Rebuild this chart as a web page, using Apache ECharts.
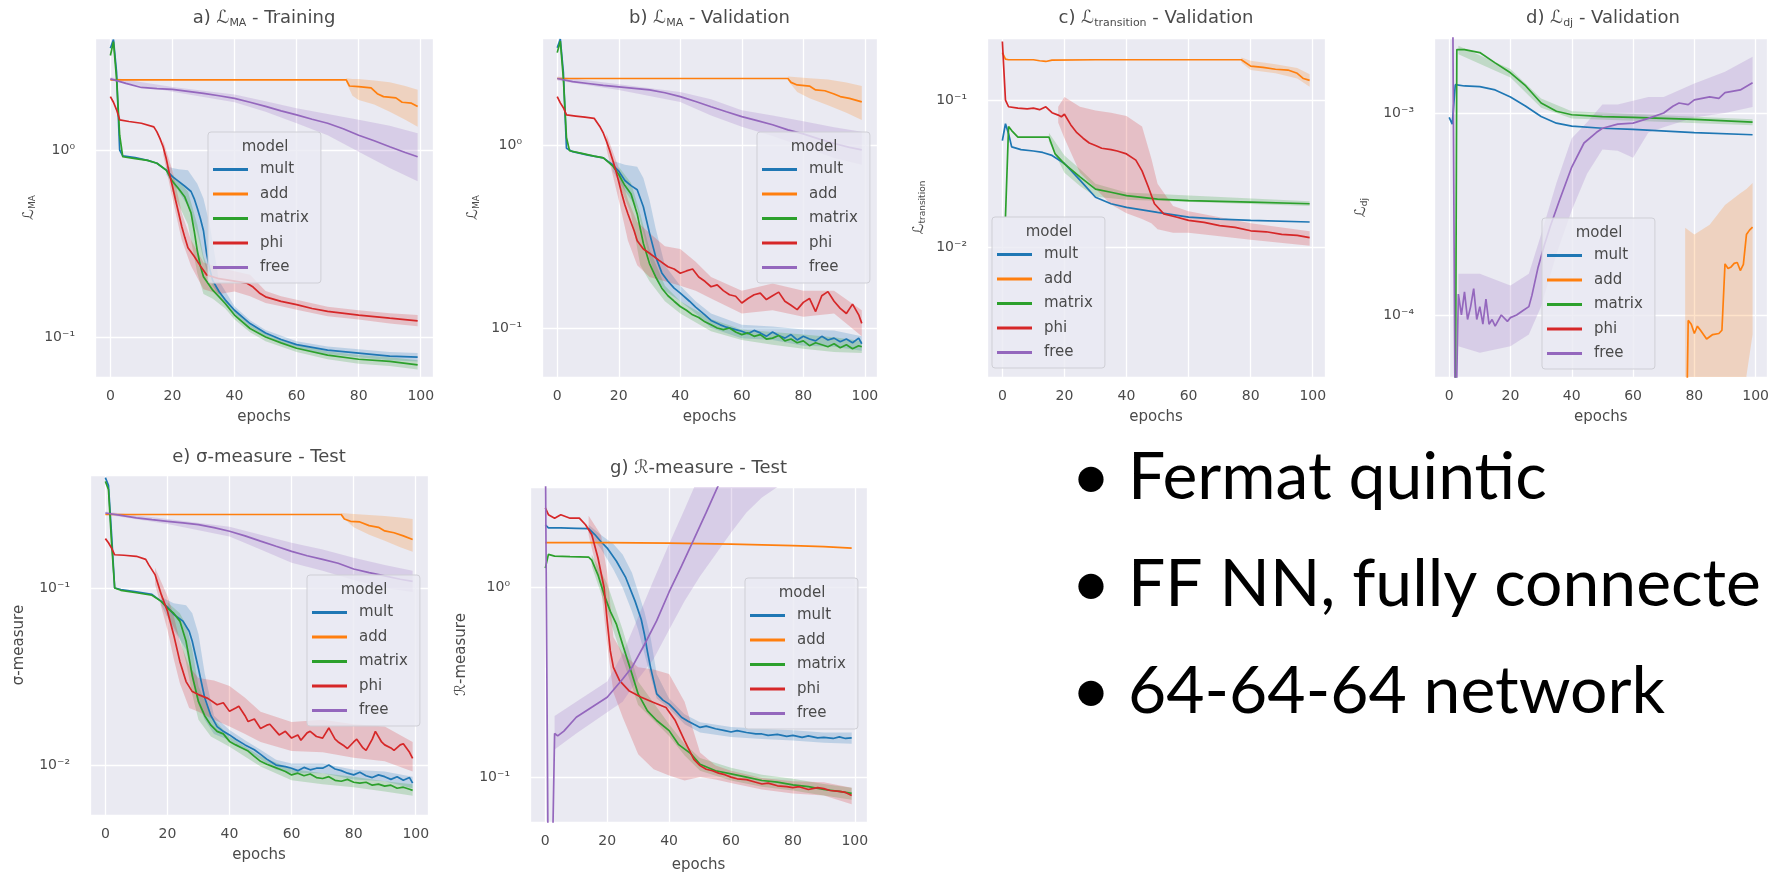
<!DOCTYPE html>
<html><head><meta charset="utf-8">
<script src="https://cdn.jsdelivr.net/npm/echarts@6/dist/echarts.min.js"></script>
<style>html,body{margin:0;padding:0;background:#fff}#c{width:1772px;height:874px}</style>
</head><body><div id="c"></div><script>
// ---------- DATA (epoch, value) ----------
const seriesNames = ['mult','add','matrix','phi','free'];
const xTicks = [0,20,40,60,80,100];
const bulletLines = ['Fermat quintic','FF NN, fully connecte','64-64-64 network'];

// a) L_MA - Training
const a_mult = [[0,3.5],[1,3.9],[2,2.6],[3,1.0],[4,0.93],[8,0.91],[12,0.88],[15,0.85],[18,0.78],[20,0.72],[22,0.68],[24,0.64],[26,0.6],[27,0.55],[28,0.49],[29,0.43],[30,0.37],[31,0.28],[32,0.23],[33,0.2],[35,0.175],[37,0.158],[40,0.139],[45,0.118],[50,0.105],[55,0.097],[60,0.091],[70,0.085],[80,0.082],[90,0.079],[99,0.078]];
const a_add = [[0,2.37],[10,2.37],[20,2.37],[40,2.37],[60,2.37],[76,2.37],[77,2.2],[80,2.18],[84,2.15],[86,2.0],[88,1.93],[92,1.9],[94,1.8],[97,1.78],[99,1.71]];
const a_matrix = [[0,3.2],[1,3.8],[2,2.4],[3,1.2],[4,0.92],[8,0.9],[12,0.88],[15,0.85],[18,0.78],[20,0.68],[22,0.62],[24,0.56],[26,0.46],[27,0.37],[28,0.29],[29,0.24],[30,0.21],[33,0.178],[37,0.151],[40,0.131],[45,0.111],[50,0.1],[55,0.093],[60,0.087],[70,0.08],[80,0.076],[90,0.074],[99,0.071]];
const a_phi = [[0,1.93],[1,1.8],[2,1.64],[3,1.45],[6,1.42],[10,1.39],[14,1.33],[15,1.25],[16,1.15],[17,1.04],[18,0.9],[19,0.75],[20,0.64],[21,0.54],[22,0.46],[23,0.39],[24,0.34],[25,0.3],[27,0.27],[29,0.24],[31,0.215],[35,0.205],[40,0.199],[44,0.194],[46,0.185],[48,0.172],[50,0.164],[55,0.155],[60,0.149],[65,0.142],[70,0.137],[80,0.131],[90,0.126],[99,0.122]];
const a_free = [[0,2.4],[2,2.35],[5,2.27],[10,2.16],[15,2.13],[20,2.11],[25,2.06],[30,2.01],[35,1.95],[40,1.89],[45,1.8],[50,1.71],[55,1.62],[60,1.54],[65,1.46],[70,1.39],[75,1.3],[80,1.2],[85,1.12],[90,1.04],[95,0.97],[99,0.92]];
const a_mult_band = [[18,0.74,0.82],[20,0.66,0.8],[22,0.6,0.79],[25,0.5,0.78],[28,0.36,0.66],[30,0.26,0.55],[32,0.2,0.4],[35,0.165,0.2],[40,0.133,0.146],[45,0.113,0.123],[50,0.101,0.109],[60,0.087,0.095],[70,0.081,0.089],[80,0.078,0.086],[90,0.075,0.083],[99,0.074,0.082]];
const a_add_band = [[76,2.3,2.42],[78,1.95,2.4],[80,1.85,2.4],[85,1.75,2.35],[90,1.6,2.3],[95,1.45,2.2],[99,1.33,2.1]];
const a_matrix_band = [[20,0.6,0.74],[25,0.4,0.6],[28,0.22,0.4],[30,0.17,0.27],[33,0.16,0.2],[37,0.142,0.16],[40,0.124,0.138],[45,0.106,0.116],[50,0.095,0.105],[60,0.083,0.091],[70,0.076,0.084],[80,0.072,0.08],[90,0.07,0.078],[99,0.067,0.075]];
const a_phi_band = [[17,0.95,1.12],[20,0.55,0.78],[23,0.33,0.46],[26,0.24,0.33],[30,0.18,0.25],[35,0.17,0.235],[40,0.175,0.225],[45,0.165,0.215],[50,0.152,0.176],[55,0.146,0.165],[60,0.14,0.158],[70,0.129,0.145],[80,0.124,0.139],[90,0.118,0.134],[99,0.114,0.131]];
const a_free_band = [[0,2.35,2.45],[20,2.05,2.17],[40,1.8,1.98],[50,1.6,1.82],[60,1.39,1.67],[70,1.2,1.56],[80,0.98,1.45],[90,0.8,1.35],[99,0.68,1.23]];

// b) L_MA - Validation
const b_mult = [[0,3.4],[1,3.8],[2,2.5],[3,0.96],[5,0.92],[10,0.88],[15,0.85],[18,0.78],[20,0.72],[22,0.64],[24,0.6],[26,0.57],[28,0.46],[30,0.33],[32,0.245],[34,0.2],[36,0.18],[38,0.165],[40,0.155],[43,0.14],[45,0.13],[48,0.118],[50,0.11],[53,0.104],[55,0.101],[58,0.098],[60,0.096],[62,0.093],[64,0.097],[66,0.094],[68,0.09],[70,0.095],[72,0.091],[74,0.088],[76,0.092],[78,0.086],[80,0.09],[82,0.087],[84,0.085],[86,0.09],[88,0.086],[90,0.088],[92,0.084],[94,0.087],[96,0.083],[98,0.088],[99,0.082]];
const b_add = [[0,2.31],[20,2.31],[40,2.31],[60,2.31],[75,2.31],[76,2.2],[78,2.13],[82,2.1],[84,2.0],[87,1.98],[90,1.9],[92,1.84],[95,1.8],[97,1.76],[99,1.72]];
const b_matrix = [[0,3.2],[1,3.7],[2,2.3],[3,1.1],[4,0.93],[8,0.9],[12,0.87],[15,0.85],[18,0.77],[20,0.69],[22,0.6],[24,0.54],[26,0.42],[28,0.29],[30,0.225],[32,0.19],[34,0.165],[36,0.15],[38,0.14],[40,0.131],[42,0.125],[44,0.118],[46,0.114],[48,0.108],[50,0.104],[52,0.1],[54,0.098],[56,0.1],[58,0.095],[60,0.092],[62,0.094],[64,0.09],[66,0.092],[68,0.087],[70,0.088],[72,0.091],[74,0.085],[76,0.087],[78,0.083],[80,0.085],[82,0.08],[84,0.083],[86,0.081],[88,0.079],[90,0.082],[92,0.078],[94,0.081],[96,0.077],[98,0.08],[99,0.079]];
const b_phi = [[0,1.84],[1,1.7],[2,1.6],[3,1.46],[6,1.44],[9,1.42],[12,1.4],[14,1.25],[15,1.16],[16,1.05],[17,0.94],[18,0.83],[19,0.73],[20,0.63],[21,0.54],[22,0.47],[23,0.42],[25,0.34],[26,0.3],[28,0.27],[30,0.256],[33,0.235],[36,0.216],[38,0.21],[40,0.199],[42,0.205],[44,0.21],[46,0.19],[48,0.18],[50,0.168],[52,0.172],[54,0.16],[56,0.152],[58,0.149],[60,0.137],[62,0.145],[64,0.152],[66,0.155],[68,0.143],[70,0.15],[72,0.157],[74,0.14],[76,0.133],[78,0.126],[80,0.138],[82,0.145],[84,0.123],[86,0.15],[88,0.158],[90,0.14],[92,0.128],[94,0.12],[96,0.135],[98,0.118],[99,0.106]];
const b_free = [[0,2.31],[5,2.22],[10,2.17],[15,2.12],[20,2.08],[25,2.04],[30,2.0],[35,1.93],[40,1.84],[45,1.73],[50,1.62],[55,1.52],[60,1.43],[65,1.36],[70,1.29],[75,1.21],[80,1.15],[85,1.08],[90,1.02],[95,0.97],[99,0.94]];
const b_mult_band = [[18,0.72,0.82],[22,0.56,0.78],[26,0.45,0.76],[28,0.33,0.66],[30,0.24,0.5],[32,0.19,0.35],[35,0.16,0.22],[40,0.14,0.17],[45,0.12,0.14],[50,0.1,0.12],[60,0.088,0.104],[70,0.086,0.102],[80,0.08,0.098],[90,0.079,0.097],[99,0.075,0.09]];
const b_add_band = [[75,2.25,2.37],[78,1.95,2.35],[82,1.8,2.32],[88,1.65,2.28],[94,1.5,2.2],[99,1.37,2.1]];
const b_matrix_band = [[20,0.62,0.76],[24,0.42,0.62],[27,0.22,0.42],[30,0.18,0.27],[35,0.14,0.17],[40,0.12,0.14],[50,0.096,0.112],[60,0.086,0.098],[70,0.081,0.095],[80,0.077,0.092],[90,0.074,0.089],[99,0.073,0.085]];
const b_phi_band = [[16,0.95,1.15],[20,0.5,0.75],[23,0.3,0.5],[26,0.22,0.38],[30,0.19,0.33],[35,0.18,0.28],[40,0.17,0.27],[45,0.16,0.23],[50,0.145,0.19],[60,0.12,0.16],[70,0.125,0.175],[80,0.115,0.16],[90,0.12,0.16],[99,0.09,0.125]];
const b_free_band = [[0,2.25,2.37],[20,2.0,2.15],[40,1.72,1.95],[50,1.45,1.78],[60,1.26,1.55],[70,1.12,1.45],[80,0.98,1.35],[90,0.85,1.25],[99,0.78,1.18]];

// c) L_transition - Validation
const c_mult = [[0,0.053],[1,0.069],[2,0.059],[3,0.048],[6,0.046],[10,0.045],[13,0.044],[16,0.042],[20,0.037],[25,0.0285],[30,0.0218],[35,0.0197],[40,0.0186],[50,0.0172],[60,0.016],[70,0.0155],[80,0.0152],[99,0.0148]];
const c_add = [[0,0.21],[1,0.19],[2,0.188],[10,0.188],[12,0.185],[14,0.183],[16,0.187],[30,0.188],[50,0.188],[77,0.188],[80,0.17],[84,0.167],[88,0.162],[92,0.16],[95,0.152],[97,0.14],[99,0.136]];
const c_matrix = [[1,0.016],[2,0.066],[3,0.062],[5,0.056],[8,0.056],[12,0.056],[15,0.056],[17,0.043],[20,0.0368],[25,0.03],[30,0.0248],[35,0.0236],[40,0.0224],[50,0.0212],[60,0.0207],[80,0.0202],[99,0.0197]];
const c_phi = [[0,0.25],[1,0.1],[2,0.09],[5,0.088],[8,0.087],[10,0.088],[12,0.086],[14,0.09],[16,0.082],[18,0.079],[19,0.077],[20,0.08],[22,0.068],[24,0.06],[26,0.055],[28,0.051],[30,0.049],[32,0.047],[35,0.046],[37,0.045],[40,0.043],[43,0.039],[45,0.033],[47,0.0257],[49,0.0197],[52,0.0168],[56,0.016],[60,0.0152],[65,0.0147],[70,0.014],[75,0.0136],[80,0.0129],[85,0.0127],[90,0.0122],[95,0.012],[99,0.0116]];
const c_add_band = [[77,0.18,0.195],[80,0.16,0.185],[88,0.152,0.175],[95,0.14,0.165],[99,0.123,0.15]];
const c_matrix_band = [[15,0.052,0.06],[20,0.032,0.042],[25,0.026,0.034],[30,0.022,0.027],[40,0.021,0.0235],[99,0.019,0.0205]];
const c_phi_band = [[18,0.07,0.09],[20,0.055,0.105],[25,0.032,0.09],[30,0.025,0.085],[35,0.0195,0.082],[40,0.017,0.078],[45,0.0155,0.066],[48,0.0145,0.04],[50,0.0132,0.027],[55,0.0125,0.019],[60,0.0125,0.0175],[80,0.0112,0.0145],[99,0.0102,0.0128]];

// d) L_dj - Validation
const d_mult = [[0,0.00095],[1,0.00088],[2,0.00138],[5,0.00136],[10,0.00135],[15,0.0013],[20,0.0012],[25,0.00108],[30,0.00096],[35,0.00089],[40,0.00086],[50,0.00084],[60,0.00083],[80,0.0008],[99,0.00078]];
const d_add = [[77,0.00001],[78,0.000094],[79,0.00009],[80,0.000081],[81,0.000088],[82,0.000084],[84,0.000076],[86,0.00008],[88,0.000081],[89,0.000084],[90,0.000179],[91,0.00017],[92,0.000173],[93,0.00018],[94,0.000182],[95,0.000166],[96,0.000178],[97,0.00025],[98,0.000263],[99,0.000272]];
const d_matrix = [[2,0.00002],[2.5,0.00206],[5,0.00206],[10,0.00199],[15,0.00177],[20,0.00158],[25,0.00136],[30,0.00112],[35,0.00102],[40,0.00098],[50,0.00096],[60,0.00095],[80,0.00093],[99,0.0009]];
const d_free = [[1,0.01],[2,0.00002],[3,0.000127],[4,0.0001],[5,0.00013],[6,0.000095],[7,0.00011],[8,0.000135],[9,0.000095],[10,0.00011],[11,0.00009],[12,0.00012],[13,0.00009],[14,0.000095],[15,0.000088],[17,0.0001],[19,0.000093],[20,0.000097],[22,0.0001],[24,0.000105],[26,0.00011],[27,0.000125],[29,0.000172],[31,0.00022],[33,0.000275],[36,0.00037],[40,0.00054],[44,0.00071],[48,0.0008],[50,0.00084],[55,0.00088],[60,0.00089],[65,0.00094],[70,0.001],[73,0.00108],[75,0.00112],[78,0.0011],[80,0.00116],[85,0.0012],[88,0.00118],[90,0.00126],[95,0.0013],[99,0.00141]];
const d_add_band = [[77,0.000005,0.00027],[80,0.000005,0.00025],[85,0.000005,0.00028],[90,0.000005,0.00035],[95,0.000005,0.0004],[97,0.00005,0.00042],[99,0.00008,0.00045]];
const d_matrix_band = [[3,0.00195,0.00215],[20,0.0015,0.00165],[30,0.00106,0.00118],[40,0.00094,0.00102],[99,0.00087,0.00093]];
const d_free_band = [[3,0.00007,0.00016],[10,0.000065,0.00016],[20,0.00007,0.00014],[26,0.00008,0.00016],[30,0.00011,0.00025],[35,0.0002,0.00045],[40,0.00033,0.00075],[45,0.0005,0.0009],[50,0.00066,0.0011],[55,0.00065,0.0011],[60,0.0006,0.00115],[65,0.0008,0.0012],[70,0.00085,0.0012],[80,0.00095,0.0014],[90,0.001,0.0016],[99,0.00107,0.0019]];

// e) sigma-measure - Test
const e_mult = [[0,0.42],[1,0.38],[2,0.2],[3,0.1],[5,0.098],[10,0.095],[15,0.092],[18,0.084],[20,0.078],[22,0.071],[25,0.065],[27,0.057],[28,0.05],[30,0.035],[32,0.024],[34,0.019],[36,0.0165],[38,0.0155],[40,0.0148],[42,0.014],[45,0.013],[48,0.0122],[50,0.0115],[52,0.0108],[55,0.01],[58,0.0098],[60,0.0096],[62,0.0093],[64,0.0097],[66,0.0094],[68,0.0096],[70,0.0096],[72,0.01],[74,0.0095],[76,0.0093],[78,0.009],[80,0.0088],[82,0.0091],[84,0.0087],[86,0.0085],[88,0.0088],[90,0.0086],[92,0.0083],[94,0.0086],[96,0.0082],[98,0.0085],[99,0.0079]];
const e_add = [[0,0.26],[20,0.26],[40,0.26],[60,0.26],[76,0.26],[77,0.245],[79,0.238],[82,0.236],[85,0.225],[88,0.22],[90,0.21],[93,0.205],[96,0.197],[99,0.188]];
const e_matrix = [[0,0.4],[1,0.36],[2,0.18],[3,0.1],[5,0.097],[10,0.094],[15,0.091],[18,0.084],[20,0.077],[22,0.072],[24,0.065],[26,0.05],[28,0.032],[30,0.0228],[32,0.019],[34,0.0168],[36,0.0155],[38,0.015],[40,0.0136],[42,0.013],[44,0.0125],[46,0.012],[48,0.0112],[50,0.0105],[52,0.0101],[54,0.0098],[56,0.0095],[58,0.0092],[60,0.0088],[62,0.009],[64,0.0087],[66,0.0089],[68,0.0085],[70,0.0084],[72,0.0086],[74,0.0082],[76,0.0081],[78,0.0083],[80,0.008],[82,0.0079],[84,0.008],[86,0.0077],[88,0.0078],[90,0.0076],[92,0.0077],[94,0.0074],[96,0.0075],[98,0.0073],[99,0.0072]];
const e_phi = [[0,0.19],[1,0.18],[2,0.168],[3,0.154],[6,0.153],[10,0.151],[13,0.145],[14,0.135],[16,0.119],[18,0.092],[20,0.074],[22,0.0545],[24,0.0385],[26,0.0296],[28,0.026],[30,0.025],[33,0.0238],[36,0.0219],[38,0.0225],[40,0.0201],[42,0.021],[43,0.0215],[45,0.019],[46,0.0176],[48,0.0182],[50,0.0161],[52,0.0168],[53,0.017],[55,0.0155],[56,0.0148],[58,0.0155],[60,0.0142],[62,0.0148],[63,0.0138],[65,0.0152],[66,0.0155],[68,0.0145],[70,0.0142],[72,0.0162],[74,0.014],[75,0.0135],[77,0.0128],[78,0.0124],[80,0.0135],[81,0.014],[83,0.0125],[84,0.0121],[86,0.014],[87,0.0155],[89,0.0135],[90,0.013],[92,0.0125],[93,0.0121],[95,0.013],[96,0.0132],[98,0.0118],[99,0.0109]];
const e_free = [[0,0.265],[5,0.257],[10,0.249],[15,0.243],[20,0.238],[25,0.233],[30,0.228],[35,0.219],[40,0.209],[45,0.197],[50,0.184],[55,0.172],[60,0.161],[65,0.152],[70,0.145],[75,0.138],[80,0.128],[85,0.122],[90,0.117],[95,0.112],[99,0.109]];
const e_mult_band = [[18,0.08,0.089],[22,0.058,0.082],[26,0.045,0.08],[28,0.03,0.072],[30,0.022,0.055],[32,0.018,0.033],[35,0.015,0.019],[40,0.0138,0.0158],[45,0.0122,0.0138],[50,0.0108,0.0122],[55,0.0094,0.0107],[60,0.009,0.0102],[70,0.009,0.0102],[80,0.0083,0.0094],[90,0.0081,0.0092],[99,0.0074,0.0086]];
const e_add_band = [[76,0.255,0.265],[80,0.22,0.262],[85,0.2,0.258],[90,0.185,0.255],[95,0.17,0.25],[99,0.16,0.245]];
const e_matrix_band = [[20,0.07,0.083],[24,0.052,0.072],[26,0.038,0.062],[28,0.025,0.045],[30,0.018,0.028],[34,0.0145,0.019],[40,0.0127,0.0145],[50,0.0098,0.0112],[60,0.0082,0.0095],[70,0.0078,0.009],[80,0.0075,0.0086],[90,0.0071,0.0081],[99,0.0067,0.0078]];
const e_phi_band = [[16,0.105,0.13],[20,0.058,0.09],[22,0.04,0.07],[24,0.029,0.05],[27,0.021,0.036],[30,0.02,0.031],[35,0.018,0.03],[40,0.0165,0.028],[45,0.015,0.024],[50,0.0135,0.02],[60,0.012,0.0175],[70,0.0118,0.018],[80,0.011,0.017],[90,0.0105,0.0165],[99,0.0092,0.0135]];
const e_free_band = [[0,0.26,0.27],[20,0.23,0.245],[40,0.195,0.222],[50,0.165,0.2],[60,0.139,0.18],[70,0.125,0.165],[80,0.111,0.148],[90,0.1,0.135],[99,0.095,0.125]];

// g) R-measure - Test
const g_mult = [[0,2.15],[1,2.07],[5,2.07],[10,2.06],[14,2.05],[16,1.91],[18,1.75],[20,1.62],[23,1.38],[26,1.13],[29,0.85],[31,0.68],[32,0.57],[33,0.46],[34,0.38],[36,0.275],[38,0.255],[40,0.243],[42,0.225],[44,0.207],[46,0.198],[48,0.19],[50,0.183],[52,0.186],[55,0.18],[58,0.176],[60,0.173],[62,0.176],[65,0.172],[68,0.169],[70,0.169],[72,0.166],[75,0.168],[78,0.164],[80,0.166],[83,0.162],[85,0.165],[88,0.161],[90,0.162],[93,0.16],[95,0.163],[97,0.16],[99,0.161]];
const g_add = [[0,1.73],[20,1.73],[40,1.72],[60,1.7],[80,1.67],[90,1.65],[99,1.62]];
const g_matrix = [[0,1.27],[1,1.5],[3,1.47],[8,1.46],[14,1.45],[15,1.4],[17,1.17],[19,0.92],[21,0.75],[23,0.64],[25,0.5],[28,0.35],[30,0.275],[33,0.224],[36,0.199],[40,0.176],[43,0.149],[47,0.133],[50,0.117],[55,0.108],[60,0.104],[65,0.1],[70,0.096],[75,0.094],[80,0.091],[85,0.089],[90,0.086],[95,0.084],[99,0.082]];
const g_phi = [[0,2.64],[1,2.43],[3,2.33],[5,2.43],[8,2.33],[11,2.33],[13,2.15],[15,1.91],[17,1.44],[19,1.0],[20,0.667],[21,0.464],[22,0.38],[24,0.323],[27,0.286],[31,0.264],[35,0.248],[39,0.233],[42,0.199],[45,0.156],[48,0.124],[50,0.115],[52,0.11],[54,0.108],[56,0.105],[58,0.103],[60,0.1],[62,0.098],[65,0.097],[68,0.094],[70,0.092],[72,0.093],[75,0.09],[78,0.089],[80,0.088],[82,0.089],[85,0.086],[88,0.088],[90,0.087],[92,0.085],[95,0.084],[97,0.083],[99,0.08]];
const g_free = [[0,6.0],[1,0.02],[2,0.02],[3,0.17],[4,0.165],[6,0.175],[10,0.207],[15,0.234],[20,0.264],[25,0.33],[28,0.38],[32,0.5],[36,0.67],[40,0.95],[44,1.3],[48,1.8],[52,2.5],[56,3.5],[60,4.8]];
const g_mult_band = [[14,1.95,2.15],[18,1.6,1.9],[22,1.25,1.7],[25,1.0,1.5],[28,0.75,1.2],[30,0.6,0.95],[32,0.45,0.75],[34,0.34,0.55],[36,0.26,0.35],[40,0.23,0.26],[45,0.19,0.215],[50,0.172,0.195],[60,0.163,0.184],[70,0.159,0.18],[80,0.156,0.177],[90,0.152,0.172],[99,0.15,0.172]];
const g_matrix_band = [[15,1.3,1.5],[20,0.75,1.05],[25,0.42,0.6],[30,0.24,0.32],[40,0.165,0.19],[45,0.13,0.15],[50,0.108,0.126],[60,0.096,0.112],[70,0.089,0.103],[80,0.085,0.098],[90,0.08,0.092],[99,0.076,0.088]];
const g_phi_band = [[14,1.9,2.4],[18,1.0,1.9],[20,0.5,1.2],[22,0.28,0.55],[25,0.207,0.45],[30,0.132,0.38],[35,0.11,0.37],[40,0.102,0.35],[45,0.096,0.25],[50,0.1,0.135],[55,0.097,0.115],[60,0.093,0.108],[70,0.086,0.099],[80,0.082,0.095],[90,0.08,0.094],[99,0.072,0.088]];
const g_free_band = [[3,0.14,0.21],[10,0.17,0.25],[20,0.22,0.32],[25,0.25,0.45],[30,0.33,0.7],[35,0.42,1.1],[40,0.6,1.7],[45,0.85,2.6],[50,1.15,4.0],[55,1.5,6],[60,1.95,8],[65,2.5,10],[70,3.0,12],[75,3.4,14],[80,4.0,16]];

// ---------- LAYOUT / STYLE ----------
const COLORS = {mult:'#1f77b4', add:'#ff7f0e', matrix:'#2ca02c', phi:'#d62728', free:'#9467bd'};
const FONT = 'DejaVu Sans';
const TXT = '#4a4a4a';

const panels = [
 {grid:[95,38,338,339], yExp:[-1.214,0.599], title:'a) {L|ℒ}{sub|MA} - Training', titleY:18, ylabel:'{L|ℒ}{sub|MA}', yGap:58, xGap:33, legend:[208,132],
  lines:{mult:a_mult,add:a_add,matrix:a_matrix,phi:a_phi,free:a_free}, bands:{mult:a_mult_band,add:a_add_band,matrix:a_matrix_band,phi:a_phi_band,free:a_free_band}},
 {grid:[542,38,335,339], yExp:[-1.268,0.585], title:'b) {L|ℒ}{sub|MA} - Validation', titleY:18, ylabel:'{L|ℒ}{sub|MA}', yGap:61, xGap:33, legend:[757,132],
  lines:{mult:b_mult,add:b_add,matrix:b_matrix,phi:b_phi,free:b_free}, bands:{mult:b_mult_band,add:b_add_band,matrix:b_matrix_band,phi:b_phi_band,free:b_free_band}},
 {grid:[987,38,338,339], yExp:[-2.884,-0.578], title:'c) {L|ℒ}{sub|transition} - Validation', titleY:18, ylabel:'{L|ℒ}{sub|transition}', yGap:60, xGap:33, legend:[992,217],
  lines:{mult:c_mult,add:c_add,matrix:c_matrix,phi:c_phi}, bands:{add:c_add_band,matrix:c_matrix_band,phi:c_phi_band}},
 {grid:[1434,38,338,339], yExp:[-4.307,-2.629], title:'d) {L|ℒ}{sub|dj} - Validation', titleY:18, ylabel:'{L|ℒ}{sub|dj}', yGap:65, xGap:33, legend:[1542,218],
  lines:{mult:d_mult,add:d_add,matrix:d_matrix,free:d_free}, bands:{add:d_add_band,matrix:d_matrix_band,free:d_free_band}},
 {grid:[90,475,338,340], yExp:[-2.282,-0.362], title:'e) σ-measure - Test', titleY:457, ylabel:'σ-measure', yGap:63, xGap:33, legend:[307,575],
  lines:{mult:e_mult,add:e_add,matrix:e_matrix,phi:e_phi,free:e_free}, bands:{mult:e_mult_band,add:e_add_band,matrix:e_matrix_band,phi:e_phi_band,free:e_free_band}},
 {grid:[530,487,337,336], yExp:[-1.237,0.532], title:'g) ℛ-measure - Test', titleY:468, ylabel:'ℛ-measure', yGap:61, xGap:36, legend:[745,578],
  lines:{mult:g_mult,add:g_add,matrix:g_matrix,phi:g_phi,free:g_free}, bands:{mult:g_mult_band,matrix:g_matrix_band,phi:g_phi_band,free:g_free_band}}
];

function sup(n){const m={'-':'⁻','0':'⁰','1':'¹','2':'²','3':'³','4':'⁴','5':'⁵','6':'⁶','7':'⁷','8':'⁸','9':'⁹'};return String(n).split('').map(c=>m[c]).join('');}
function logLabel(v){const e=Math.log10(v);const r=Math.round(e);if(Math.abs(e-r)>1e-6)return '';return '10'+sup(r);}

const titleRich = {L:{fontFamily:FONT,fontSize:18,color:TXT}, sub:{fontFamily:FONT,fontSize:11,color:TXT,lineHeight:6,verticalAlign:'bottom'}};
const nameRich = {L:{fontFamily:FONT,fontSize:15,color:TXT}, sub:{fontFamily:FONT,fontSize:9,color:TXT,lineHeight:5,verticalAlign:'bottom'}};

const option = {animation:false, textStyle:{fontFamily:FONT}, grid:[], xAxis:[], yAxis:[], series:[], legend:[], graphic:[]};

function bandSeries(i, data, color){
  return {type:'custom', xAxisIndex:i, yAxisIndex:i, clip:true, silent:true, z:2, data:data,
    renderItem:function(params, api){
      if(params.dataIndex!==0) return null;
      const up = data.map(d=>api.coord([d[0],d[2]]));
      const lo = data.map(d=>api.coord([d[0],d[1]])).reverse();
      return {type:'polygon', shape:{points:up.concat(lo)}, style:{fill:color, opacity:0.22}};
    }};
}

panels.forEach((p,i)=>{
  const [L,T,W,H] = p.grid;
  option.grid.push({left:L, top:T, width:W, height:H, show:true, backgroundColor:'#EAEAF2', borderWidth:0});
  option.xAxis.push({type:'value', gridIndex:i, min:-4.95, max:103.95,
    name:'epochs', nameLocation:'middle', nameGap:p.xGap, nameTextStyle:{fontFamily:FONT,fontSize:15,color:TXT},
    axisLine:{show:false}, axisTick:{show:false},
    axisLabel:{fontFamily:FONT,fontSize:14,color:TXT,margin:12,showMinLabel:false,showMaxLabel:false,
      formatter:v=>(xTicks.indexOf(Math.round(v*1000)/1000)>=0?String(v):'')},
    splitLine:{show:true,lineStyle:{color:'#ffffff',width:1.3}}});
  option.yAxis.push({type:'log', logBase:10, gridIndex:i, min:Math.pow(10,p.yExp[0]), max:Math.pow(10,p.yExp[1]),
    name:p.ylabel, nameLocation:'middle', nameRotate:90, nameGap:p.yGap,
    nameTextStyle:{fontFamily:FONT,fontSize:15,color:TXT,rich:nameRich},
    axisLine:{show:false}, axisTick:{show:false},
    axisLabel:{fontFamily:FONT,fontSize:14,color:TXT,margin:20,showMinLabel:false,showMaxLabel:false,formatter:logLabel},
    splitLine:{show:true,lineStyle:{color:'#ffffff',width:1.3}}, minorSplitLine:{show:false}});
  seriesNames.forEach(n=>{ if(p.bands[n]) option.series.push(bandSeries(i,p.bands[n],COLORS[n])); });
  seriesNames.forEach((n,k)=>{ if(p.lines[n]) option.series.push({type:'line', name:n, xAxisIndex:i, yAxisIndex:i, data:p.lines[n],
      showSymbol:false, symbol:'none', color:COLORS[n], lineStyle:{width:1.7,color:COLORS[n]}, z:3+k*0.01, silent:true}); });
  option.legend.push({orient:'vertical', left:p.legend[0], top:p.legend[1], padding:[29,12,7,5], itemGap:7.5,
    itemWidth:35, itemHeight:3, icon:'rect', selectedMode:false,
    backgroundColor:'rgba(234,234,242,0.8)', borderColor:'#cfcfd6', borderWidth:1, borderRadius:3,
    textStyle:{fontFamily:FONT,fontSize:15,color:TXT,lineHeight:17,padding:[0,0,0,7]}, data:seriesNames});
  option.graphic.push({type:'text', x:p.legend[0]+57, y:p.legend[1]+15, z:100,
    style:{text:'model', fontFamily:FONT, fontSize:15, fill:TXT, align:'center', verticalAlign:'middle', textAlign:'center', textVerticalAlign:'middle'}});
  option.graphic.push({type:'text', x:L+W/2, y:p.titleY, z:100,
    style:{text:p.title, fontFamily:FONT, fontSize:18, fill:TXT, align:'center', verticalAlign:'middle', textAlign:'center', textVerticalAlign:'middle', lineHeight:22, rich:titleRich}});
});

// bullet text
const bulletY = [478, 585, 692];
bulletLines.forEach((t,k)=>{
  option.graphic.push({type:'text', x:1091, y:bulletY[k], z:100, style:{text:'•', fontFamily:'Lato', fontSize:68, fill:'#000', align:'center', verticalAlign:'middle', textAlign:'center', textVerticalAlign:'middle'}});
  option.graphic.push({type:'text', x:1128, y:bulletY[k], z:100, style:{text:t, fontFamily:'Lato', fontSize:66, fill:'#000', align:'left', verticalAlign:'middle', textAlign:'left', textVerticalAlign:'middle'}});
});

const chart = echarts.init(document.getElementById('c'), null, {renderer:'canvas'});
chart.setOption(option);
</script></body></html>
